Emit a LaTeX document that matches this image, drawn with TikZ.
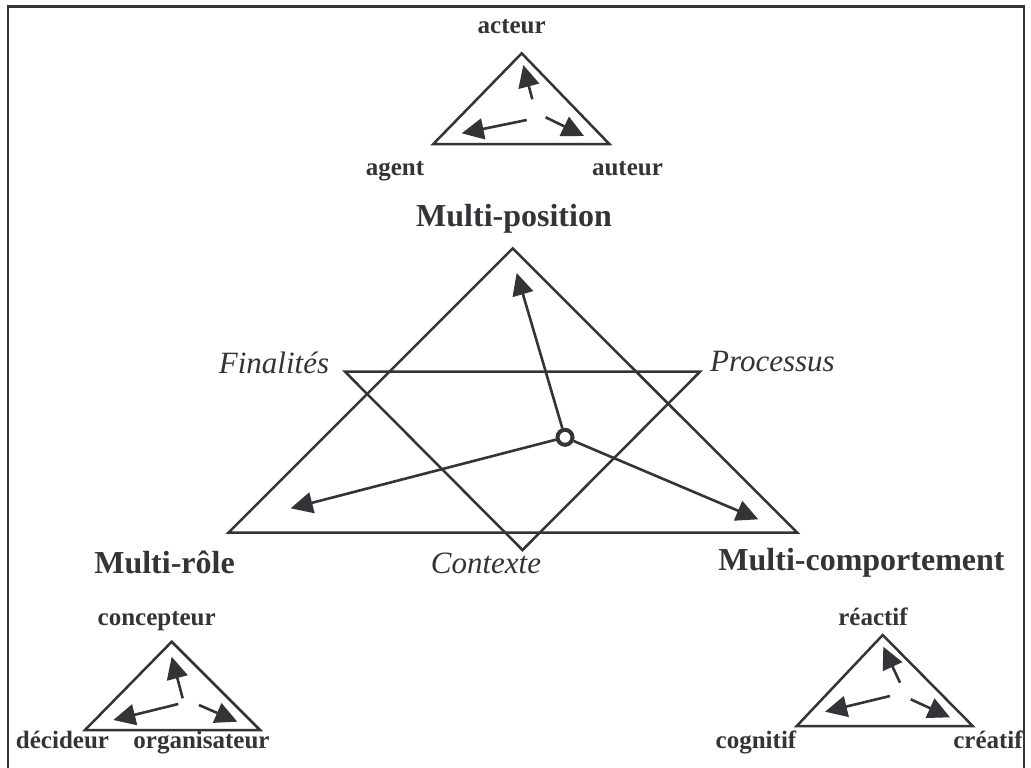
\documentclass[tikz,border=0pt]{standalone}
\usepackage{fontspec}
\setmainfont{Liberation Serif}
\usetikzlibrary{arrows.meta}
\definecolor{ink}{RGB}{51,51,56}
\begin{document}
\begin{tikzpicture}[x=0.5pt,y=-0.5pt,
  edge/.style={draw=ink, line width=1.25pt, line join=miter},
  frame/.style={draw=ink, line width=1.4pt},
  arr/.style={draw=ink, line width=1.3pt, -{Triangle[length=11pt,width=10.5pt]}},
  big/.style={font=\fontsize{16}{18}\selectfont\bfseries, text=ink, inner sep=0pt, anchor=base},
  ital/.style={font=\fontsize{15.5}{18}\selectfont\itshape, text=ink, inner sep=0pt, anchor=base},
  small/.style={font=\fontsize{12.5}{15}\selectfont\bfseries, text=ink, inner sep=0pt, anchor=base},
  hubstyle/.style={circle, draw=ink, line width=2pt, minimum size=7.5pt, inner sep=0pt}]
\useasboundingbox (0,0) rectangle (1031,767);
% frame
\draw[frame] (8,780) -- (8,6.7) -- (1024,6.7) -- (1024,780);

% big triangle
\coordinate (P) at (512.7,248.3);
\coordinate (R) at (228.3,532.7);
\coordinate (C) at (797.3,532.7);
\draw[edge] (P) -- (R) -- (C) -- cycle;
% inverted triangle
\coordinate (F) at (345,371.7);
\coordinate (Pr) at (700,371.7);
\coordinate (Ct) at (522.5,550);
\draw[edge] (F) -- (Pr) -- (Ct) -- cycle;

% hub and arrows
\node[hubstyle] (hub) at (565,437.3) {};
\coordinate (tP) at (516.7,273);
\coordinate (tR) at (290.7,508.3);
\coordinate (tC) at (758.3,519.3);
\draw[arr] (hub) -- (tP);
\draw[arr] (hub) -- (tR);
\draw[arr] (hub) -- (tC);

% labels big
\node[big] (mpos) at (514,226) {Multi-position};
\node[big] (mrole) at (164.5,573) {Multi-rôle};
\node[big] (mcomp) at (861.5,570) {Multi-comportement};
\node[ital] (fin) at (274,373.3) {Finalités};
\node[ital] (proc) at (772.5,371.7) {Processus};
\node[ital] (ctx) at (486,573.3) {Contexte};

% top small triangle
\coordinate (a1) at (521.7,53.3);
\coordinate (a2) at (433.3,144);
\coordinate (a3) at (609.3,144);
\draw[edge] (a1) -- (a2) -- (a3) -- cycle;
\coordinate (a1s) at (532.3,99.3);  \coordinate (a1t) at (523.3,65);
\coordinate (a2s) at (526.7,120);   \coordinate (a2t) at (461.7,133.3);
\coordinate (a3s) at (545.7,117.3); \coordinate (a3t) at (584,136);
\draw[arr] (a1s) -- (a1t);
\draw[arr] (a2s) -- (a2t);
\draw[arr] (a3s) -- (a3t);
\node[small] (acteur) at (511.7,33) {acteur};
\node[small] (agent) at (395,175) {agent};
\node[small] (auteur) at (627.5,175) {auteur};

% bottom-left small triangle
\coordinate (b1) at (171.7,641.7);
\coordinate (b2) at (85,730);
\coordinate (b3) at (260,730);
\draw[edge] (b1) -- (b2) -- (b3) -- cycle;
\coordinate (b1s) at (182.7,698.3); \coordinate (b1t) at (171.7,656.7);
\coordinate (b2s) at (178.3,704);   \coordinate (b2t) at (113.3,720);
\coordinate (b3s) at (199,705);     \coordinate (b3t) at (237.3,721.7);
\draw[arr] (b1s) -- (b1t);
\draw[arr] (b2s) -- (b2t);
\draw[arr] (b3s) -- (b3t);
\node[small] (concepteur) at (156.7,625) {concepteur};
\node[small] (decideur) at (62.5,748) {décideur};
\node[small] (organisateur) at (201.5,748) {organisateur};

% bottom-right small triangle
\coordinate (c1) at (882.7,635);
\coordinate (c2) at (796.7,726);
\coordinate (c3) at (972.7,726);
\draw[edge] (c1) -- (c2) -- (c3) -- cycle;
\coordinate (c1s) at (900,682.7);   \coordinate (c1t) at (883.3,646.7);
\coordinate (c2s) at (890,696);     \coordinate (c2t) at (825,711.7);
\coordinate (c3s) at (910.7,699.3); \coordinate (c3t) at (950,717.3);
\draw[arr] (c1s) -- (c1t);
\draw[arr] (c2s) -- (c2t);
\draw[arr] (c3s) -- (c3t);
\node[small] (reactif) at (873,625) {réactif};
\node[small] (cognitif) at (756,748) {cognitif};
\node[small] (creatif) at (988,748) {créatif};
\end{tikzpicture}
\end{document}
